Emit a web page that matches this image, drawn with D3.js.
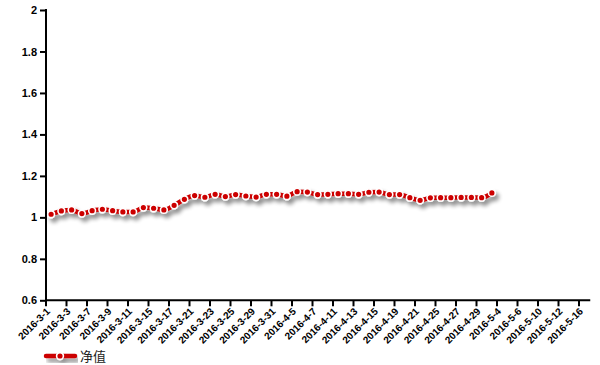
<!DOCTYPE html>
<html><head><meta charset="utf-8">
<script src="https://cdn.jsdelivr.net/npm/d3@7/dist/d3.min.js"></script>
<style>body{margin:0;background:#fff}svg{display:block}</style>
</head><body>
<svg id="c" width="600" height="365"></svg>
<script>
const categories = ["2016-3-1","2016-3-2","2016-3-3","2016-3-4","2016-3-7","2016-3-8","2016-3-9","2016-3-10","2016-3-11","2016-3-14","2016-3-15","2016-3-16","2016-3-17","2016-3-18","2016-3-21","2016-3-22","2016-3-23","2016-3-24","2016-3-25","2016-3-28","2016-3-29","2016-3-30","2016-3-31","2016-4-1","2016-4-5","2016-4-6","2016-4-7","2016-4-8","2016-4-11","2016-4-12","2016-4-13","2016-4-14","2016-4-15","2016-4-18","2016-4-19","2016-4-20","2016-4-21","2016-4-22","2016-4-25","2016-4-26","2016-4-27","2016-4-28","2016-4-29","2016-5-3","2016-5-4","2016-5-5","2016-5-6","2016-5-9","2016-5-10","2016-5-11","2016-5-12","2016-5-13","2016-5-16"];
const netValue = [1.015,1.031,1.036,1.018,1.032,1.039,1.032,1.026,1.026,1.047,1.044,1.036,1.058,1.087,1.105,1.097,1.111,1.100,1.110,1.103,1.098,1.111,1.111,1.102,1.124,1.122,1.110,1.111,1.114,1.114,1.111,1.121,1.122,1.110,1.110,1.095,1.082,1.094,1.095,1.095,1.096,1.096,1.095,1.118];
const yTicks = [0.6,0.8,1,1.2,1.4,1.6,1.8,2];
const seriesName = "净值";

const svg = d3.select("#c");
const m = {l:46, t:10, r:10, b:65};
const W = 600, H = 365;
const x = d3.scaleBand().domain(categories).range([46, 46 + 10.25*categories.length]);
const y = d3.scaleLinear().domain([0.6, 2]).range([300.3, 10]);

const defs = svg.append("defs");
const f = defs.append("filter").attr("id","sh").attr("x","-10%").attr("y","-50%").attr("width","120%").attr("height","200%");
f.append("feGaussianBlur").attr("in","SourceAlpha").attr("stdDeviation",2.2).attr("result","b");
f.append("feOffset").attr("in","b").attr("dx",3).attr("dy",4).attr("result","o");
f.append("feComponentTransfer").attr("in","o").attr("result","o2").append("feFuncA").attr("type","linear").attr("slope",0.45);
const mg = f.append("feMerge");
mg.append("feMergeNode").attr("in","o2");
mg.append("feMergeNode").attr("in","SourceGraphic");

// Y axis
const yAxis = d3.axisLeft(y).tickValues(yTicks).tickSize(6).tickPadding(3).tickFormat(d3.format("~g"));
const gy = svg.append("g").attr("transform","translate(46,0)").call(yAxis);
gy.select(".domain").attr("stroke","#000").attr("stroke-width",2).attr("d","M0,9V300.3");
gy.selectAll(".tick line").attr("stroke","#000").attr("stroke-width",2);
gy.selectAll(".tick text").attr("font-family","Arial, Liberation Sans, sans-serif").attr("font-weight","bold").attr("font-size",11).attr("fill","#000");

// X axis
const labelCats = categories.filter((d,i)=>i%2===0);
const xAxis = d3.axisBottom(x).tickValues(labelCats).tickSize(6).tickPadding(2);
const gx = svg.append("g").attr("transform","translate(0,300.3)").call(xAxis);
gx.selectAll(".tick").attr("transform", d => `translate(${x(d)},0)`);
gx.select(".domain").attr("stroke","#000").attr("stroke-width",2).attr("d",`M45,0H${x.range()[1]+1}`);
gx.selectAll(".tick line").attr("stroke","#000").attr("stroke-width",2);
gx.selectAll(".tick text").attr("font-family","Arial, Liberation Sans, sans-serif").attr("font-weight","bold").attr("font-size",10).attr("fill","#000")
  .attr("text-anchor","end").attr("dy",0).attr("transform","translate(-1,6) rotate(-45)");

// Line
const pts = netValue.map((v,i)=>({c:categories[i], v}));
const cx = d => x(d.c) + x.bandwidth()/2;
const line = d3.line().x(cx).y(d=>y(d.v)).curve(d3.curveMonotoneX);
const gl = svg.append("g").attr("filter","url(#sh)");
gl.append("path").datum(pts).attr("d",line).attr("fill","none").attr("stroke","#cc0000").attr("stroke-width",4.5);
gl.selectAll("circle").data(pts).join("circle").attr("cx",cx).attr("cy",d=>y(d.v)).attr("r",3.4)
  .attr("fill","#cc0000").attr("stroke","#fff").attr("stroke-width",1.6);

// Legend
const lg = svg.append("g").attr("filter","url(#sh)");
lg.append("line").attr("x1",46).attr("x2",75).attr("y1",356).attr("y2",356).attr("stroke","#cc0000").attr("stroke-width",4.5).attr("stroke-linecap","round");
lg.append("circle").attr("cx",60).attr("cy",356).attr("r",3.4).attr("fill","#cc0000").attr("stroke","#fff").attr("stroke-width",1.6);
svg.append("text").attr("x",80).attr("y",361).attr("font-family","Noto Sans CJK SC, sans-serif").attr("font-size",13).attr("fill","#222").text(seriesName);
</script>
</body></html>
